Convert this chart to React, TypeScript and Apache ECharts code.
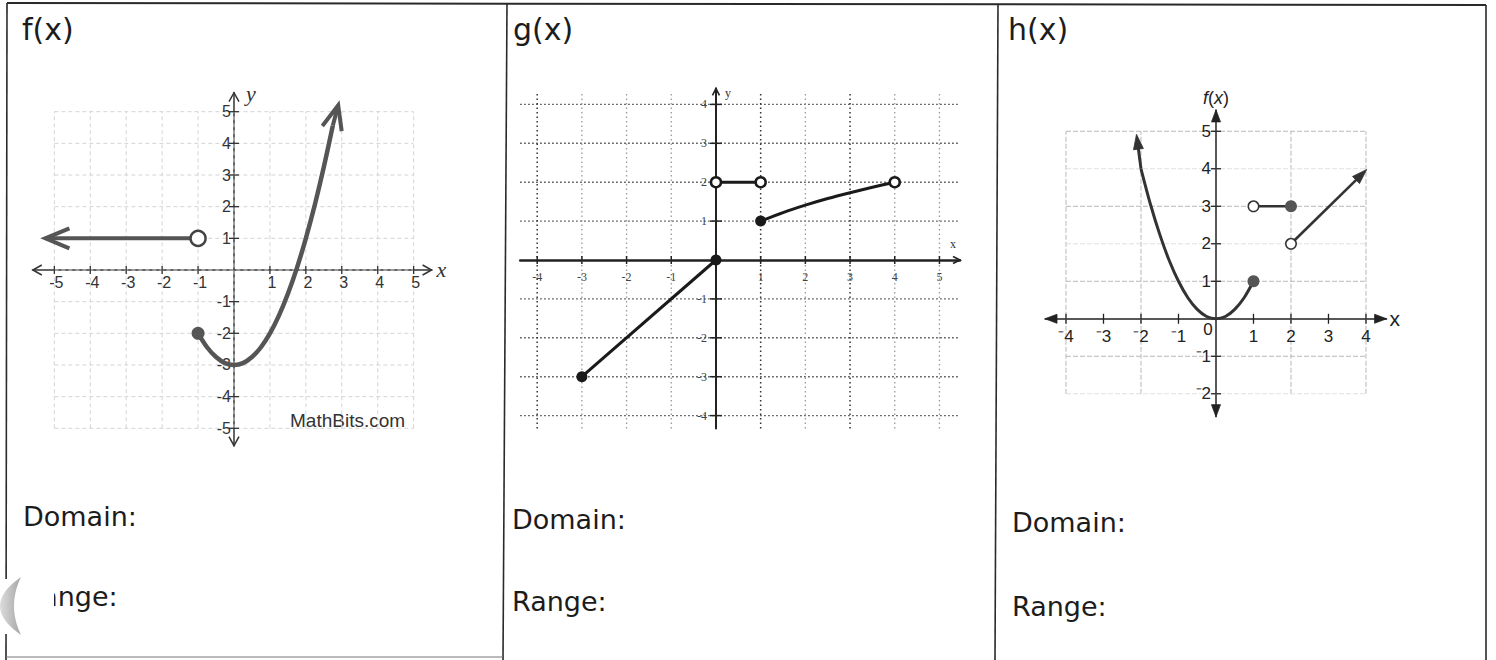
import React, { useEffect, useRef } from "react";
import * as echarts from "echarts";

/* ---------------- data read from the worksheet ---------------- */
// f(x)
const fTickValues = [-5, -4, -3, -2, -1, 1, 2, 3, 4, 5];
const fGridValues = [-5, -4, -3, -2, -1, 0, 1, 2, 3, 4, 5];
const fRay = [[-1, 1, -5.25, 1]]; // open end -> arrow tip
const fCurve = [
  [-1, -2], [-0.75, -2.44], [-0.5, -2.75], [-0.25, -2.94], [0, -3], [0.25, -2.94],
  [0.5, -2.75], [0.75, -2.44], [1, -2], [1.25, -1.44], [1.5, -0.75], [1.75, 0.06],
  [2, 1], [2.25, 2.06], [2.5, 3.25], [2.75, 4.56],
];
const fCurveArrow = [[2.75, 4.56, 2.9, 5.2]];
const fOpenDots = [[-1, 1]];
const fClosedDots = [[-1, -2]];

// g(x)
const gXTickValues = [-4, -3, -2, -1, 1, 2, 3, 4, 5];
const gYTickValues = [-4, -3, -2, -1, 1, 2, 3, 4];
const gGridXDark = [-4, 1, 3];
const gGridXLight = [-3, -2, -1, 2, 4, 5];
const gSeg1 = [[-3, -3], [0, 0]];
const gSeg2 = [[0, 2], [1, 2]];
const gSeg3 = [[1, 1], [1.5, 1.22], [2, 1.41], [2.5, 1.58], [3, 1.73], [3.5, 1.87], [4, 2]];
const gClosedDots = [[-3, -3], [0, 0], [1, 1]];
const gOpenDots = [[0, 2], [1, 2], [4, 2]];

// h(x)
const hXTickValues = [-4, -3, -2, -1, 1, 2, 3, 4];
const hYTickValues = [-2, -1, 1, 2, 3, 4, 5];
const hGridX = [-4, -2, 2, 4];
const hGridYMain = [5, 3, 1, -1];
const hGridYFaint = [4, 2, -2];
const hParabola = [
  [-2, 4], [-1.75, 3.06], [-1.5, 2.25], [-1.25, 1.56], [-1, 1], [-0.75, 0.56], [-0.5, 0.25],
  [-0.25, 0.06], [0, 0], [0.25, 0.06], [0.5, 0.25], [0.75, 0.56], [1, 1],
];
const hParabolaArrow = [[-2, 4, -2.12, 4.92]];
const hStep = [[1, 3], [2, 3]];
const hRay = [[2, 2, 4.02, 3.98]];
const hClosedDots = [[1, 1], [2, 3]];
const hOpenDots = [[1, 3], [2, 2]];
const hOriginLabel = [0];

/* ---------------- layout ---------------- */
const F = { grid: { left: 32.8, top: 92.7, width: 398.8, height: 353 }, x: [-5.6, 5.5], y: [-5.55, 5.6] };
const G = { grid: { left: 520.2, top: 88.45, width: 439.8, height: 340 }, x: [-4.38, 5.46], y: [-4.33, 4.41] };
const H = { grid: { left: 1045, top: 109.9, width: 341.6, height: 306.75 }, x: [-4.56, 4.55], y: [-2.61, 5.57] };

const SANS = '"Liberation Sans", Arial, sans-serif';
const SERIF = '"Liberation Serif", "Times New Roman", serif';
const HAND = '"Comic Sans MS", "DejaVu Sans", sans-serif';

/* ---------------- helpers ---------------- */
function segSeries(gi: number, rows: number[][], color: string, width: number, dash?: number[], z = 1) {
  return {
    type: "custom",
    xAxisIndex: gi,
    yAxisIndex: gi,
    silent: true,
    z,
    data: rows,
    encode: { x: [0, 2], y: [1, 3] },
    renderItem: (_p: any, api: any) => {
      const a = api.coord([api.value(0), api.value(1)]);
      const b = api.coord([api.value(2), api.value(3)]);
      return {
        type: "line",
        shape: { x1: a[0], y1: a[1], x2: b[0], y2: b[1] },
        style: { stroke: color, lineWidth: width, lineDash: dash || null, fill: null },
      };
    },
  };
}

function tickSeries(gi: number, values: number[], dir: "x" | "y", half: number, color: string, width: number) {
  return {
    type: "custom",
    xAxisIndex: gi,
    yAxisIndex: gi,
    silent: true,
    z: 2,
    data: values.map((v) => (dir === "x" ? [v, 0] : [0, v])),
    encode: { x: 0, y: 1 },
    renderItem: (_p: any, api: any) => {
      const c = api.coord([api.value(0), api.value(1)]);
      const shape =
        dir === "x"
          ? { x1: c[0], y1: c[1] - half, x2: c[0], y2: c[1] + half }
          : { x1: c[0] - half, y1: c[1], x2: c[0] + half, y2: c[1] };
      return { type: "line", shape, style: { stroke: color, lineWidth: width, fill: null } };
    },
  };
}

type LabelStyle = {
  dx: number;
  dy: number;
  align: "left" | "center" | "right";
  size: number;
  family: string;
  color: string;
  fmt: (v: number) => string;
};

function labelSeries(gi: number, values: number[], dir: "x" | "y", st: LabelStyle) {
  return {
    type: "custom",
    xAxisIndex: gi,
    yAxisIndex: gi,
    silent: true,
    z: 1,
    data: values.map((v) => (dir === "x" ? [v, 0] : [0, v])),
    encode: { x: 0, y: 1 },
    renderItem: (_p: any, api: any) => {
      const v = dir === "x" ? api.value(0) : api.value(1);
      const c = api.coord([api.value(0), api.value(1)]);
      return {
        type: "text",
        x: c[0] + st.dx,
        y: c[1] + st.dy,
        style: {
          text: st.fmt(v),
          fontSize: st.size,
          fontFamily: st.family,
          fill: st.color,
          align: st.align,
          verticalAlign: "middle",
        },
      };
    },
  };
}

type ArrowStyle = {
  kind: "chevron" | "triangle";
  len: number;
  half: number;
  color: string;
  shaft: boolean;
  shaftWidth: number;
  headWidth: number;
};

function arrowSeries(gi: number, rows: number[][], st: ArrowStyle, z = 3) {
  return {
    type: "custom",
    xAxisIndex: gi,
    yAxisIndex: gi,
    silent: true,
    z,
    data: rows,
    encode: { x: [0, 2], y: [1, 3] },
    renderItem: (_p: any, api: any) => {
      const a = api.coord([api.value(0), api.value(1)]);
      const b = api.coord([api.value(2), api.value(3)]);
      const dx = b[0] - a[0];
      const dy = b[1] - a[1];
      const len = Math.hypot(dx, dy) || 1;
      const ux = dx / len;
      const uy = dy / len;
      const nx = -uy;
      const ny = ux;
      const bx = b[0] - ux * st.len;
      const by = b[1] - uy * st.len;
      const l = [bx + nx * st.half, by + ny * st.half];
      const r = [bx - nx * st.half, by - ny * st.half];
      const children: any[] = [];
      if (st.shaft) {
        const end = st.kind === "chevron" ? b : [bx + ux * 1, by + uy * 1];
        children.push({
          type: "line",
          shape: { x1: a[0], y1: a[1], x2: end[0], y2: end[1] },
          style: { stroke: st.color, lineWidth: st.shaftWidth, fill: null },
        });
      }
      if (st.kind === "chevron") {
        children.push({
          type: "polyline",
          shape: { points: [l, b, r] },
          style: { stroke: st.color, lineWidth: st.headWidth, fill: null, lineJoin: "miter" },
        });
      } else {
        children.push({
          type: "polygon",
          shape: { points: [b, l, r] },
          style: { fill: st.color, stroke: st.color, lineWidth: 0.8 },
        });
      }
      return { type: "group", children };
    },
  };
}

function dots(gi: number, data: number[][], size: number, fill: string, border?: string, borderWidth = 0) {
  return {
    type: "scatter",
    xAxisIndex: gi,
    yAxisIndex: gi,
    silent: true,
    z: 5,
    data,
    symbol: "circle",
    symbolSize: size,
    itemStyle: { color: fill, borderColor: border || fill, borderWidth, opacity: 1 },
  };
}

function curve(gi: number, data: number[][], color: string, width: number, smooth: boolean | number) {
  return {
    type: "line",
    xAxisIndex: gi,
    yAxisIndex: gi,
    silent: true,
    z: 3,
    data,
    smooth,
    symbol: "none",
    showSymbol: false,
    lineStyle: { color, width, cap: "butt", join: "round" },
  };
}

function rows2(values: number[], from: number, to: number, vertical: boolean) {
  return values.map((v) => (vertical ? [v, from, v, to] : [from, v, to, v]));
}

function plainAxis(gi: number, min: number, max: number, color: string, width: number, extra: any) {
  return {
    gridIndex: gi,
    type: "value",
    min,
    max,
    axisLine: { show: true, onZero: true, lineStyle: { color, width } },
    axisTick: { show: false },
    splitLine: { show: false },
    axisLabel: { show: false },
    nameLocation: "end",
    ...extra,
  };
}

function buildOption() {
  const fLine = "#555";
  const gLine = "#1a1a1a";
  const hLine = "#333";
  const plain = (v: number) => String(v);
  const sup = (v: number) => (v < 0 ? "\u207B" + Math.abs(v) : String(v));

  const xAxes = [
    plainAxis(0, F.x[0], F.x[1], "#333", 1.5, {
      name: "x", nameGap: 5,
      nameTextStyle: { fontFamily: SERIF, fontStyle: "italic", fontSize: 22, color: "#333" },
    }),
    plainAxis(1, G.x[0], G.x[1], "#222", 2.5, {
      name: "x", nameGap: -4,
      nameTextStyle: { fontFamily: SERIF, fontSize: 12, color: "#333", align: "right", verticalAlign: "bottom", padding: [0, 0, 10, 0] },
    }),
    plainAxis(2, H.x[0], H.x[1], "#222", 1.5, {
      name: "x", nameGap: 3,
      nameTextStyle: { fontFamily: SANS, fontSize: 21, color: "#222" },
    }),
  ];

  const yAxes = [
    plainAxis(0, F.y[0], F.y[1], "#333", 1.5, {
      name: "y", nameGap: 10,
      nameTextStyle: { fontFamily: SERIF, fontStyle: "italic", fontSize: 22, color: "#333", align: "left", verticalAlign: "top", padding: [0, 0, 0, 12] },
    }),
    plainAxis(1, G.y[0], G.y[1], "#222", 2, {
      name: "y", nameGap: 1,
      nameTextStyle: { fontFamily: SERIF, fontSize: 12, color: "#333", align: "left", verticalAlign: "top", padding: [0, 0, 0, 9] },
    }),
    plainAxis(2, H.y[0], H.y[1], "#222", 1.5, {
      name: "{i|f}{n|(}{i|x}{n|)}", nameGap: 3,
      nameTextStyle: {
        color: "#222",
        rich: {
          i: { fontFamily: SANS, fontStyle: "italic", fontSize: 18, color: "#222" },
          n: { fontFamily: SANS, fontSize: 18, color: "#222" },
        },
      },
    }),
  ];

  const fChev: ArrowStyle = { kind: "chevron", len: 24, half: 10, color: fLine, shaft: true, shaftWidth: 4, headWidth: 4 };
  const fAxisChev: ArrowStyle = { kind: "chevron", len: 9, half: 5, color: "#333", shaft: false, shaftWidth: 1.5, headWidth: 1.5 };
  const gAxisChev: ArrowStyle = { kind: "chevron", len: 7, half: 3.5, color: "#222", shaft: false, shaftWidth: 2, headWidth: 1.6 };
  const hAxisTri: ArrowStyle = { kind: "triangle", len: 12, half: 4.5, color: "#222", shaft: false, shaftWidth: 1.5, headWidth: 1 };
  const hTri: ArrowStyle = { kind: "triangle", len: 15, half: 5, color: hLine, shaft: true, shaftWidth: 2.6, headWidth: 1 };

  const series: any[] = [
    // ---- f grid + axes decorations
    segSeries(0, rows2(fGridValues, fGridValues[0], fGridValues[fGridValues.length - 1], true), "#d4d4d4", 1, [4, 3]),
    segSeries(0, rows2(fGridValues, fGridValues[0], fGridValues[fGridValues.length - 1], false), "#d4d4d4", 1, [4, 3]),
    tickSeries(0, fTickValues, "x", 4, "#333", 1.3),
    tickSeries(0, fTickValues, "y", 5, "#333", 1.3),
    labelSeries(0, fTickValues, "x", { dx: 2, dy: 13, align: "center", size: 16, family: SANS, color: "#333", fmt: plain }),
    labelSeries(0, fTickValues, "y", { dx: -3, dy: 0, align: "right", size: 16, family: SANS, color: "#333", fmt: plain }),
    arrowSeries(0, [[0, 0, F.x[0], 0], [0, 0, F.x[1], 0], [0, 0, 0, F.y[1]], [0, 0, 0, F.y[0]]], fAxisChev, 2),
    // ---- f function
    arrowSeries(0, fRay, fChev),
    curve(0, fCurve, fLine, 4.5, 0.3),
    arrowSeries(0, fCurveArrow, fChev),
    dots(0, fClosedDots, 13, fLine),
    dots(0, fOpenDots, 15, "#fff", "#444", 2.5),

    // ---- g grid + axes decorations
    segSeries(1, rows2(gYTickValues, G.x[0], G.x[1], false), "#444", 1.4, [1.5, 2.5]),
    segSeries(1, rows2(gGridXDark, -4.33, 4.33, true), "#333", 1.5, [1.5, 3]),
    segSeries(1, rows2(gGridXLight, -4.33, 4.33, true), "#9a9a9a", 1.3, [1.5, 3]),
    tickSeries(1, gXTickValues, "x", 4, "#222", 1.5),
    tickSeries(1, gYTickValues, "y", 6, "#222", 1.5),
    labelSeries(1, gXTickValues, "x", { dx: 0, dy: 17, align: "center", size: 12, family: SERIF, color: "#444", fmt: plain }),
    labelSeries(1, gYTickValues, "y", { dx: -9, dy: 0, align: "right", size: 12, family: SERIF, color: "#444", fmt: plain }),
    arrowSeries(1, [[0, 0, G.x[1], 0], [0, 0, 0, G.y[1]]], gAxisChev, 2),
    // ---- g function
    curve(1, gSeg1, gLine, 3, false),
    curve(1, gSeg2, gLine, 3, false),
    curve(1, gSeg3, gLine, 3, 0.3),
    dots(1, gClosedDots, 11, gLine),
    dots(1, gOpenDots, 10, "#fff", gLine, 2.5),

    // ---- h grid + axes decorations
    segSeries(2, rows2(hGridX, -2, 5, true), "#b8b8b8", 1, [5, 2]),
    segSeries(2, rows2(hGridYMain, -4, 4, false), "#b8b8b8", 1, [5, 2]),
    segSeries(2, rows2(hGridYFaint, -4, 4, false), "#e0e0e0", 1, [5, 2]),
    tickSeries(2, hXTickValues, "x", 5, "#222", 1.3),
    tickSeries(2, hYTickValues, "y", 5, "#222", 1.3),
    labelSeries(2, hXTickValues, "x", { dx: 0, dy: 18, align: "center", size: 17, family: SANS, color: "#222", fmt: sup }),
    labelSeries(2, hYTickValues, "y", { dx: -5, dy: 0, align: "right", size: 17, family: SANS, color: "#222", fmt: sup }),
    labelSeries(2, hOriginLabel, "x", { dx: -8, dy: 11, align: "center", size: 17, family: SANS, color: "#222", fmt: plain }),
    arrowSeries(2, [[0, 0, H.x[0], 0], [0, 0, H.x[1], 0], [0, 0, 0, H.y[1]], [0, 0, 0, H.y[0]]], hAxisTri, 2),
    // ---- h function
    curve(2, hParabola, hLine, 3, 0.3),
    arrowSeries(2, hParabolaArrow, { ...hTri, shaftWidth: 3 }),
    curve(2, hStep, hLine, 2.5, false),
    arrowSeries(2, hRay, hTri),
    dots(2, hClosedDots, 12, "#555"),
    dots(2, hOpenDots, 10.5, "#fff", "#333", 1.5),
  ];

  // ---- page decoration (worksheet table, headings, scan artefact)
  const crescent: number[][] = [];
  for (let i = 0; i <= 20; i++) {
    const t = -1 + i / 10;
    crescent.push([21 - 21 * (1 - t * t), 606 + 29 * t]);
  }
  for (let i = 20; i >= 0; i--) {
    const t = -1 + i / 10;
    crescent.push([21 - 7 * (1 - t * t), 606 + 29 * t]);
  }
  const border = (x1: number, y1: number, x2: number, y2: number, w = 1.6, c = "#2a2a2a") => ({
    type: "line", shape: { x1, y1, x2, y2 }, style: { stroke: c, lineWidth: w }, z: 1,
  });
  const label = (text: string, x: number, y: number, size = 27) => ({
    type: "text", x, y, z: 1,
    style: { text, fontFamily: HAND, fontSize: size, fill: "#1c1c1c", align: "left", verticalAlign: "middle" },
  });

  const graphic = [
    border(7, 3, 1486, 5, 2),
    border(7, 3, 6, 660),
    border(507, 3, 503, 660),
    border(998, 4, 995, 660),
    border(1486, 5, 1486, 660),
    border(6, 657, 503, 657, 1.2, "#777"),
    label("f(x)", 22, 29, 30),
    label("g(x)", 513, 29, 30),
    label("h(x)", 1008, 29, 30),
    label("Domain:", 23, 516),
    label("Range:", 23, 596),
    label("Domain:", 512, 519),
    label("Range:", 512, 601),
    label("Domain:", 1012, 522),
    label("Range:", 1012, 606),
    {
      type: "text", x: 290, y: 420, z: 1,
      style: { text: "MathBits.com", fontFamily: SANS, fontSize: 19, fill: "#333", align: "left", verticalAlign: "middle" },
    },
    { type: "rect", shape: { x: 2, y: 579, width: 52, height: 55 }, style: { fill: "#fff" }, z: 5 },
    {
      type: "polygon", shape: { points: crescent }, z: 6,
      style: {
        fill: {
          type: "linear", x: 0, y: 0, x2: 1, y2: 0,
          colorStops: [{ offset: 0, color: "#dcdcdc" }, { offset: 1, color: "#a6a6a6" }],
        },
      },
    },
  ];

  return {
    animation: false,
    backgroundColor: "#fff",
    grid: [
      { ...F.grid, containLabel: false, outerBoundsMode: "none" },
      { ...G.grid, containLabel: false, outerBoundsMode: "none" },
      { ...H.grid, containLabel: false, outerBoundsMode: "none" },
    ],
    xAxis: xAxes,
    yAxis: yAxes,
    series,
    graphic: { elements: graphic },
  };
}

export default function App() {
  const ref = useRef<HTMLDivElement>(null);
  useEffect(() => {
    if (!ref.current) return;
    const chart = echarts.init(ref.current, null, { renderer: "svg" });
    chart.setOption(buildOption() as any);
    return () => chart.dispose();
  }, []);
  return (
    <div
      ref={ref}
      style={{ position: "absolute", left: 0, top: 0, width: 1496, height: 660, background: "#fff" }}
    />
  );
}
